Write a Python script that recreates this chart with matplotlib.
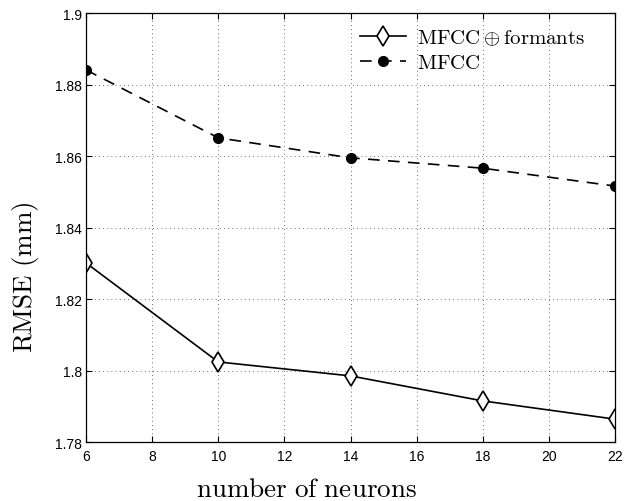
import matplotlib
matplotlib.use("Agg")
import matplotlib.pyplot as plt

# neurons vs. RMSE
neurons = [6, 10, 14, 18, 22]
rmse_formants = [1.8301, 1.8024, 1.7985, 1.7915, 1.7864]
rmse_mfcc = [1.8841, 1.8651, 1.8595, 1.8566, 1.8516]

xticks = [6, 8, 10, 12, 14, 16, 18, 20, 22]
yticks = [1.78, 1.8, 1.82, 1.84, 1.86, 1.88, 1.9]
ytick_labels = ["1.78", "1.8", "1.82", "1.84", "1.86", "1.88", "1.9"]

plt.rcParams["mathtext.fontset"] = "cm"
plt.rcParams["font.family"] = ["Liberation Sans", "DejaVu Sans"]

fig = plt.figure(figsize=(6.25, 5.02), dpi=100)
ax = fig.add_axes([0.1376, 0.1175, 0.8464, 0.8545])

ax.plot(neurons, rmse_formants, color="black", linestyle="-", linewidth=1.2,
        marker="d", markersize=10.5, markerfacecolor="white", markeredgecolor="black",
        markeredgewidth=1.2, label=r"$\mathrm{MFCC} \oplus \mathrm{formants}$")
ax.plot(neurons, rmse_mfcc, color="black", linestyle=(0, (7, 5)), linewidth=1.2,
        marker="o", markersize=7, markerfacecolor="black", markeredgecolor="black",
        label=r"$\mathrm{MFCC}$")

ax.set_xlim(6, 22)
ax.set_ylim(1.78, 1.9)
ax.set_xticks(xticks)
ax.set_yticks(yticks)
ax.set_yticklabels(ytick_labels)
ax.tick_params(direction="in", top=True, right=True, labelsize=10, length=4, width=0.8)
ax.tick_params(axis="x", pad=5)
ax.tick_params(axis="y", pad=3)
for s in ax.spines.values():
    s.set_linewidth(0.9)

ax.grid(True, linestyle=(0, (1, 4)), color="black", linewidth=0.6, alpha=0.75)

# labels sit off-centre in the reference (latex replacement), so place them by hand
ax.set_xlabel(r"$\mathrm{number\ of\ neurons}$", fontsize=19.5, va="baseline")
ax.xaxis.set_label_coords(0.416, -0.126)
ax.set_ylabel(r"$\mathrm{RMSE\ (mm)}$", fontsize=19.5)
ax.yaxis.set_label_coords(-0.085, 0.387)

leg = ax.legend(loc="upper right", bbox_to_anchor=(0.9905, 1.0233), frameon=False,
                fontsize=15, handlelength=2.2, handletextpad=0.5, borderaxespad=0.9,
                borderpad=0.3, labelspacing=0.25)

fig.savefig("out.png", dpi=100)
